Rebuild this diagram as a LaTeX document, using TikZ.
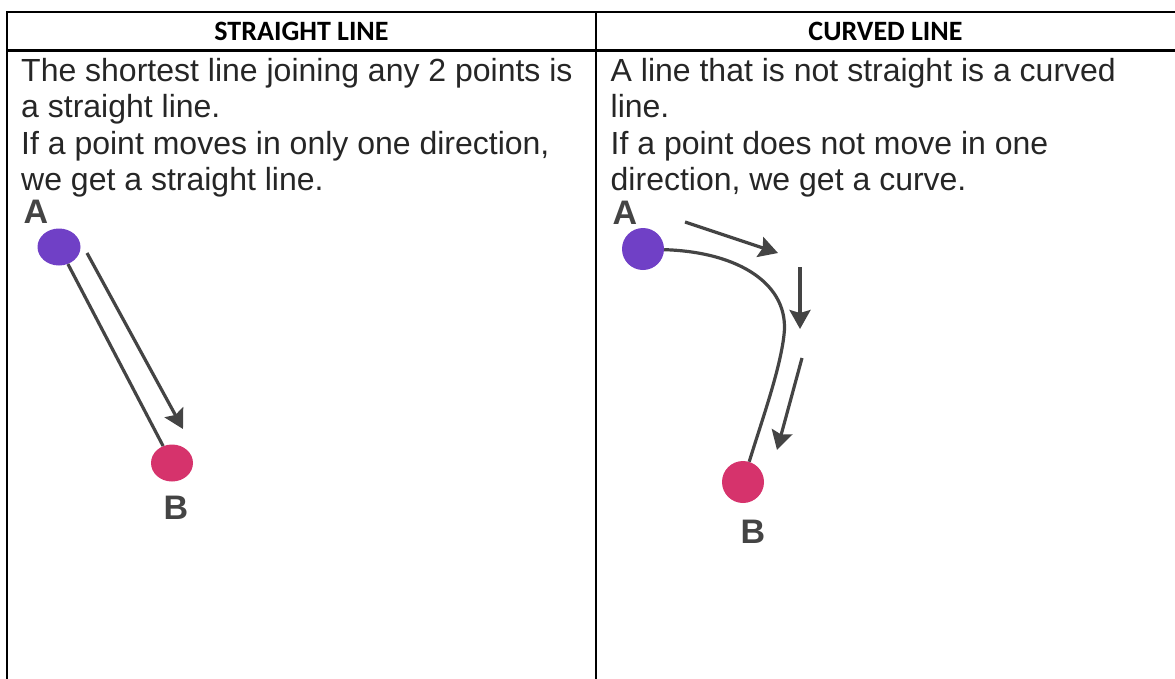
\documentclass[tikz,border=0pt]{standalone}
\usepackage{fontspec}
\setmainfont{Liberation Sans}
\newfontfamily\hdrfont{Carlito}
\usetikzlibrary{arrows.meta,shapes.geometric}
\definecolor{dotpurple}{HTML}{7040C6}
\definecolor{dotpink}{HTML}{D6336C}
\definecolor{inkgrey}{HTML}{444444}
\tikzset{
    rule/.style={line width=2.7pt,black},
    headtxt/.style={font=\hdrfont\bfseries\fontsize{28}{32}\selectfont,anchor=base,inner sep=0pt},
    bodytxt/.style={font=\fontsize{32}{36.5}\selectfont,anchor=base west,inner sep=0pt,text=black!85},
    ptlabel/.style={font=\bfseries\fontsize{34}{40}\selectfont,text=inkgrey,inner sep=0pt},
    path/.style={line width=3.2pt,inkgrey},
    motion/.style={line width=3.2pt,inkgrey,-{Stealth[length=19pt,width=21pt,inset=3pt]}}
}
\begin{document}
\begin{tikzpicture}[x=1pt,y=-1pt]
    \useasboundingbox (0,0) rectangle (1175,678);

    % Table rules
    \draw[rule] (6,12) -- (1176,12);
    \draw[rule] (6,50.5) -- (1176,50.5);
    \draw[rule] (7,11) -- (7,679);
    \draw[rule] (596,11) -- (596,679);

    % Column heads
    \node[headtxt] (hstraight) at (301.5,40) {STRAIGHT LINE};
    \node[headtxt] (hcurved) at (885.5,40) {CURVED LINE};

    % Cell texts
    \foreach \txt [count=\i] in {{The shortest line joining any 2 points is},
        {a straight line.},{If a point moves in only one direction,},{we get a straight line.}} {
        \node[bodytxt] (ls\i) at (21,{44.5+36.5*\i}) {\txt};
    }
    \foreach \txt [count=\i] in {{A line that is not straight is a curved},
        {line.},{If a point does not move in one},{direction, we get a curve.}} {
        \node[bodytxt] (lc\i) at (610.5,{44.5+36.5*\i}) {\txt};
    }

    % Straight line from A to B
    \node[ellipse,fill=dotpurple,minimum width=43pt,minimum height=37pt,inner sep=0pt] (sA) at (59,247) {};
    \node[ellipse,fill=dotpink,minimum width=42pt,minimum height=37pt,inner sep=0pt] (sB) at (172,463) {};
    \node[ptlabel] (sAlbl) at (36,212) {A};
    \node[ptlabel] (sBlbl) at (176,508) {B};
    \draw[path] (sA) -- (sB);
    \coordinate (sfrom) at (87,253);
    \coordinate (sto) at (183,429);
    \draw[motion] (sfrom) -- (sto);

    % Curved line from A to B
    \node[circle,fill=dotpurple,minimum size=42pt,inner sep=0pt] (cA) at (643,249) {};
    \node[circle,fill=dotpink,minimum size=42pt,inner sep=0pt] (cB) at (743,482) {};
    \node[ptlabel] (cAlbl) at (625,213) {A};
    \node[ptlabel] (cBlbl) at (753,532) {B};
    \coordinate (cbend) at (784,335);
    \draw[path] (cA) .. controls (740,252) and (790,285) .. (cbend)
        .. controls (780,370) and (762,420) .. (cB);
    \coordinate (m1) at (685,222);
    \coordinate (m2) at (778,253);
    \coordinate (m3) at (800,267);
    \coordinate (m4) at (800,329);
    \coordinate (m5) at (802,358);
    \coordinate (m6) at (777,450);
    \draw[motion] (m1) -- (m2);
    \draw[motion] (m3) -- (m4);
    \draw[motion] (m5) -- (m6);
\end{tikzpicture}
\end{document}
